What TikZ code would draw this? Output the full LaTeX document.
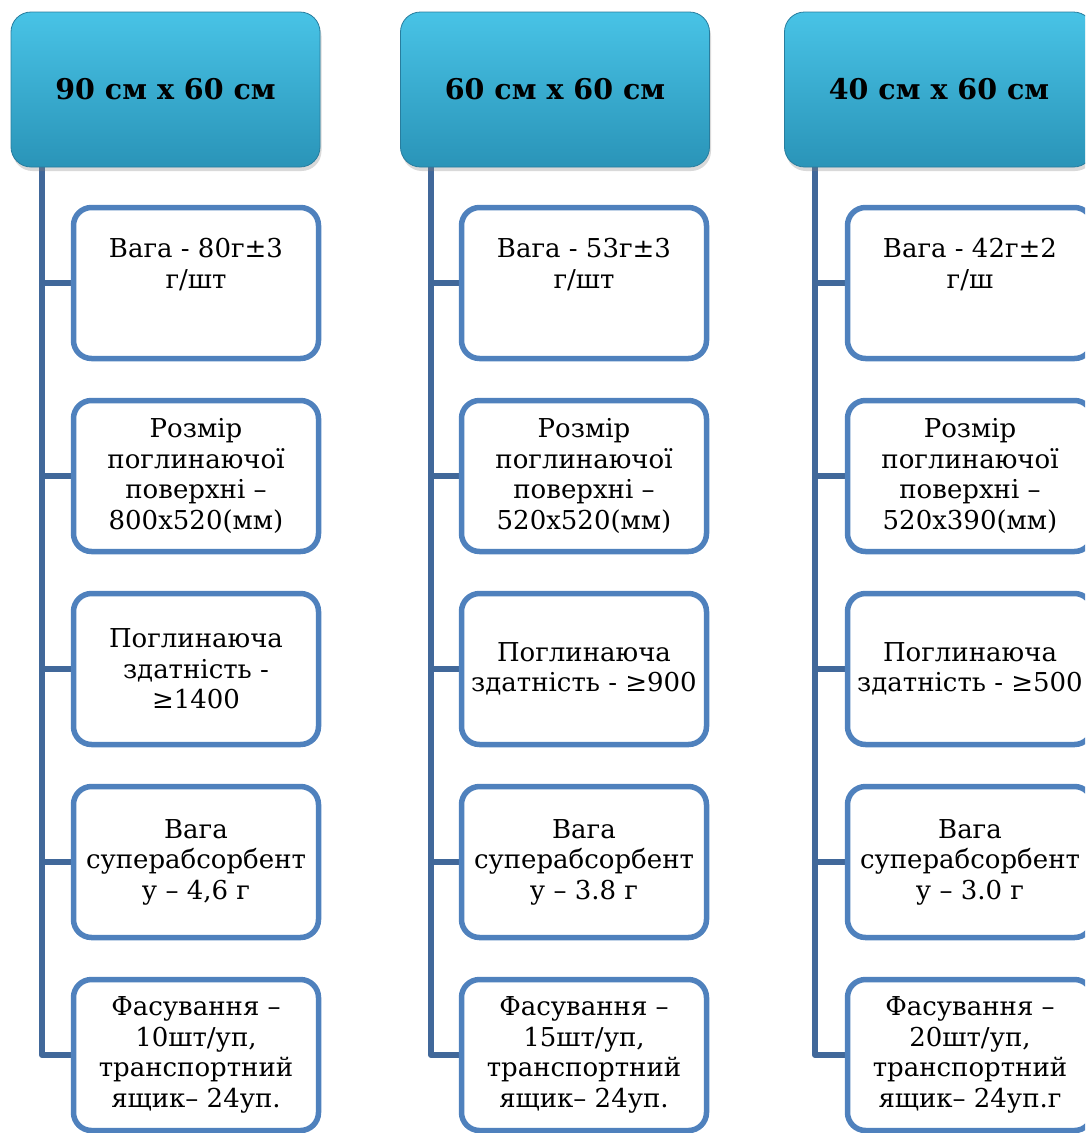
\documentclass[tikz,border=0pt]{standalone}
\usepackage{fontspec}
\setmainfont{DejaVu Serif}
\usetikzlibrary{shadows,backgrounds}

\definecolor{hdrtop}{RGB}{72,195,230}
\definecolor{hdrmid}{RGB}{58,178,215}
\definecolor{hdrbot}{RGB}{42,148,184}
\definecolor{hdredge}{RGB}{40,125,158}
\definecolor{trunkcol}{RGB}{65,104,154}
\definecolor{boxcol}{RGB}{79,129,189}

\tikzset{
  sizehead/.style={rounded corners=20pt, top color=hdrtop, middle color=hdrmid, bottom color=hdrbot,
    draw=hdredge, line width=0.8pt, minimum width=309pt, minimum height=155pt,
    drop shadow={opacity=0.3, shadow xshift=1.5pt, shadow yshift=-4pt},
    font=\fontsize{28.5}{32}\selectfont\bfseries},
  infobox/.style={rounded corners=18pt, draw=boxcol, line width=5.5pt, fill=white,
    minimum width=245pt, minimum height=151pt, align=center, inner sep=1pt,
    font=\fontsize{26}{30.5}\selectfont},
  trunk/.style={draw=trunkcol, line width=6pt, line join=round}
}

\begin{document}
\begin{tikzpicture}[x=1pt,y=-1pt]
		\useasboundingbox (0,0) rectangle (1085,1133);
		\clip (0,0) rectangle (1085,1133);
		
		%spines
		\coordinate (t1) at (42,160);
		\coordinate (t2) at (431,160);
		\coordinate (t3) at (815,160);
		
		%boxes, column 1
		\node[infobox] (b11) at (196,283) {Вага - 80г±3\\г/шт\\\strut};
		\node[infobox] (b12) at (196,476) {Розмір\\поглинаючої\\поверхні –\\800х520(мм)};
		\node[infobox] (b13) at (196,669) {Поглинаюча\\здатність -\\≥1400};
		\node[infobox] (b14) at (196,862) {Вага\\суперабсорбент\\у – 4,6 г};
		\node[infobox] (b15) at (196,1055) {Фасування –\\10шт/уп,\\транспортний\\ящик– 24уп.};
		
		%boxes, column 2
		\node[infobox] (b21) at (584,283) {Вага - 53г±3\\г/шт\\\strut};
		\node[infobox] (b22) at (584,476) {Розмір\\поглинаючої\\поверхні –\\520х520(мм)};
		\node[infobox] (b23) at (584,669) {Поглинаюча\\здатність - ≥900};
		\node[infobox] (b24) at (584,862) {Вага\\суперабсорбент\\у – 3.8 г};
		\node[infobox] (b25) at (584,1055) {Фасування –\\15шт/уп,\\транспортний\\ящик– 24уп.};
		
		%boxes, column 3
		\node[infobox] (b31) at (970,283) {Вага - 42г±2\\г/ш\\\strut};
		\node[infobox] (b32) at (970,476) {Розмір\\поглинаючої\\поверхні –\\520х390(мм)};
		\node[infobox] (b33) at (970,669) {Поглинаюча\\здатність - ≥500};
		\node[infobox] (b34) at (970,862) {Вага\\суперабсорбент\\у – 3.0 г};
		\node[infobox] (b35) at (970,1055) {Фасування –\\20шт/уп,\\транспортний\\ящик– 24уп.г};
		
		%connectors
		\begin{scope}[on background layer]
		\draw[trunk] (t1) |- (b15.west);
		\draw[trunk] (t1 |- b11.west) -- (b11.west);
		\draw[trunk] (t1 |- b12.west) -- (b12.west);
		\draw[trunk] (t1 |- b13.west) -- (b13.west);
		\draw[trunk] (t1 |- b14.west) -- (b14.west);
		
		\draw[trunk] (t2) |- (b25.west);
		\draw[trunk] (t2 |- b21.west) -- (b21.west);
		\draw[trunk] (t2 |- b22.west) -- (b22.west);
		\draw[trunk] (t2 |- b23.west) -- (b23.west);
		\draw[trunk] (t2 |- b24.west) -- (b24.west);
		
		\draw[trunk] (t3) |- (b35.west);
		\draw[trunk] (t3 |- b31.west) -- (b31.west);
		\draw[trunk] (t3 |- b32.west) -- (b32.west);
		\draw[trunk] (t3 |- b33.west) -- (b33.west);
		\draw[trunk] (t3 |- b34.west) -- (b34.west);
		\end{scope}
		
		%headers
		\node[sizehead] (h1) at (165.5,89.5) {90 см х 60 см};
		\node[sizehead] (h2) at (555,89.5) {60 см х 60 см};
		\node[sizehead] (h3) at (939,89.5) {40 см х 60 см};
		
		\end{tikzpicture}
\end{document}
